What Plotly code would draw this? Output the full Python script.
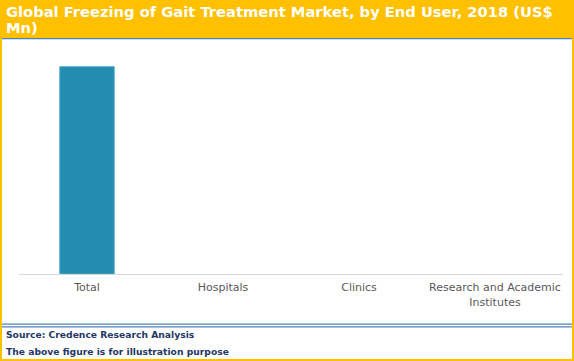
import plotly.graph_objects as go

categories = ["Total", "Hospitals", "Clinics", "Research and Academic<br>Institutes"]
values = [100, None, None, None]

W, H = 574, 361
L, R, T, B = 19, 11, 46, 87
pw, ph = W - L - R, H - T - B

def px(x):
    return (x - L) / pw

def py(y):
    return (H - B - y) / ph

fig = go.Figure()
fig.add_trace(go.Bar(
    x=categories, y=values,
    marker=dict(color="#238DB0", line=dict(color="#4CA9C9", width=1)),
    width=0.40,
    hoverinfo="skip",
))

shapes = []
def rect(x0, y0, x1, y1, color):
    shapes.append(dict(type="rect", xref="paper", yref="paper",
                       x0=px(x0), x1=px(x1), y0=py(y0), y1=py(y1),
                       fillcolor=color, line=dict(width=0), layer="above"))

rect(0, 0, W, 38, "#FFC000")
rect(0, 38, W, 39.3, "#4F81BD")
rect(0, 0, 2, H, "#FFC000")
rect(W - 2, 0, W, H, "#FFC000")
rect(0, H - 2, W, H, "#FFC000")
rect(2, 323.5, W - 2, 324.8, "#4F81BD")
rect(2, 326.2, W - 2, 327.5, "#4F81BD")

title_font = dict(family="DejaVu Sans", size=14.7, color="white", weight="bold")
annotations = [
    dict(text="Global Freezing of Gait Treatment Market, by End User, 2018 (US$",
         xref="paper", yref="paper", x=px(4), y=py(11), xanchor="left", yanchor="middle",
         showarrow=False, font=title_font),
    dict(text="Mn)",
         xref="paper", yref="paper", x=px(4), y=py(28), xanchor="left", yanchor="middle",
         showarrow=False, font=title_font),
    dict(text="Source: Credence Research Analysis",
         xref="paper", yref="paper", x=px(4), y=py(334), xanchor="left", yanchor="middle",
         showarrow=False, font=dict(family="DejaVu Sans", size=9.2, color="#1F3864", weight="bold")),
    dict(text="The above figure is for illustration purpose",
         xref="paper", yref="paper", x=px(4), y=py(351), xanchor="left", yanchor="middle",
         showarrow=False, font=dict(family="DejaVu Sans", size=9.2, color="#1F3864", weight="bold")),
]

fig.update_layout(
    width=W, height=H,
    margin=dict(l=L, r=R, t=T, b=B, autoexpand=False),
    paper_bgcolor="white", plot_bgcolor="white",
    showlegend=False,
    shapes=shapes,
    annotations=annotations,
    xaxis=dict(showline=True, linecolor="#D9D9D9", linewidth=1, showgrid=False,
               ticks="", tickfont=dict(family="DejaVu Sans", size=11, color="#595959"),
               ticklabelstandoff=3),
    yaxis=dict(range=[0, 110], visible=False, showgrid=False, zeroline=False),
)

fig.write_html("out.html", config={"displayModeBar": False},
               post_script="document.body.style.margin='0';document.body.style.overflow='hidden';")
